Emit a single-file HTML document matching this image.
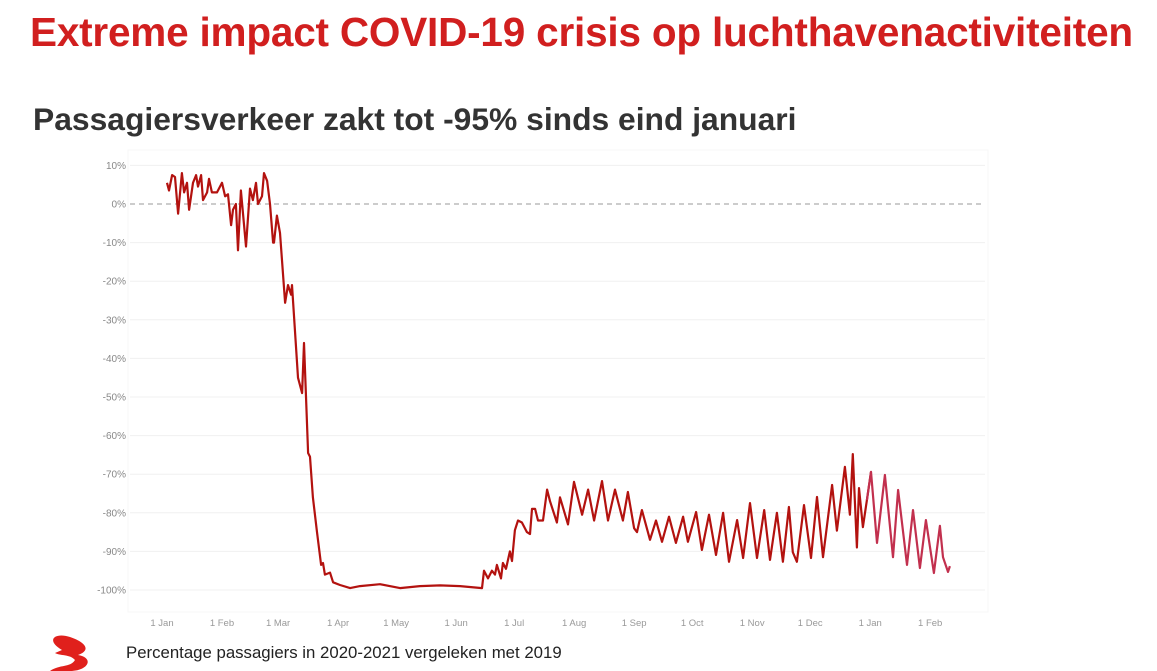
<!DOCTYPE html>
<html><head><meta charset="utf-8">
<style>
body{margin:0;width:1157px;height:671px;overflow:hidden;background:#fff;font-family:"Liberation Sans",sans-serif;position:relative}
#title{position:absolute;left:30px;top:9px;font-size:40.5px;font-weight:bold;color:#d11f1f;white-space:nowrap;letter-spacing:-0.2px}
#sub{position:absolute;left:33px;top:101px;font-size:31.8px;font-weight:bold;color:#333;white-space:nowrap}
#cap{position:absolute;left:126px;top:643px;font-size:16.8px;color:#222;white-space:nowrap}
svg{position:absolute;left:0;top:0}
</style></head><body>
<div id="title">Extreme impact COVID-19 crisis op luchthavenactiviteiten</div>
<div id="sub">Passagiersverkeer zakt tot -95% sinds eind januari</div>
<div id="cap">Percentage passagiers in 2020-2021 vergeleken met 2019</div>
<svg id="chart" width="1157" height="671">
<path d="M62 650 C45 640 55 632 70 637 C85 642 92 650 78 655 C95 658 88 671 70 671 L50 671 C60 664 70 668 75 660 C70 654 60 656 55 653 Z" fill="#e0201c"/>
</svg>
<script>
const yTicks=[10,0,-10,-20,-30,-40,-50,-60,-70,-80,-90,-100];
const xTickLabels=["1 Jan","1 Feb","1 Mar","1 Apr","1 May","1 Jun","1 Jul","1 Aug","1 Sep","1 Oct","1 Nov","1 Dec","1 Jan","1 Feb"];
const xTickDays=[0,31,60,91,121,152,182,213,244,274,305,335,366,397];
const days=[2.6,3.6,5.2,6.7,8.3,10.3,11.4,12.9,14,16,17.6,18.6,20.2,21.2,23.3,24.3,25.8,28.4,31,32.6,34.1,35.7,36.7,38.2,39.3,40.8,43.4,45.5,47,48.6,49.6,51.7,52.7,54.3,55.8,57.4,57.9,59.4,61,63.6,65.1,66.7,67.2,70.3,72.4,73.4,75.5,76.5,78,80.1,82.2,83.2,84.2,86.8,88.4,92,97.2,102.3,112.7,123,133.3,143.7,154,165.4,166.4,168.5,170.5,172.1,173.1,175.2,176.2,177.8,179.8,180.9,182.4,184,186,188.6,190.2,191.2,192.8,194.3,196.9,199,200.5,204.1,205.7,209.8,212.9,217.1,220.2,223.3,227.4,230.5,234.1,238.2,240.8,244,245.5,248,252.2,255.3,258.4,262,265.6,269.3,271.8,276,279,282.7,286.3,290,293,297.2,300.3,303.9,307.5,311.2,314.2,317.8,320.9,324,326,328.1,331.8,335.4,338.5,341.6,346.3,348.8,350.9,352.9,355.5,357,359.1,360.2,362.2,364.3,366.4,369.5,373.6,377.8,380.4,385,388.1,391.7,394.8,398.9,402,403.6,406.2,407.2];
const values=[5.5,3.5,7.5,7,-2.5,8,3,5.5,-1.5,5.5,7.5,4.5,7.5,1,3,6.5,3,3,5.5,2,2.5,-5.5,-1.5,0,-12,3.5,-11,4,1,5.5,0,2,8,6,0,-10,-10,-3,-7.5,-25.6,-21,-23.5,-21,-45,-49,-36,-64.5,-65.5,-76,-85,-93.5,-93,-96,-95.5,-98,-98.7,-99.5,-99,-98.5,-99.5,-99,-98.8,-99,-99.5,-95,-97,-95,-96,-93.5,-97,-93,-94.5,-90,-92.5,-84.5,-82,-82.5,-85,-85.5,-79,-79,-82,-82,-74,-77,-82.5,-76,-83,-72,-80.5,-74,-82,-71.8,-82,-74,-82,-74.6,-84,-85,-79.3,-87,-82,-87.5,-81,-87.8,-81,-87.5,-79.8,-89.6,-80.5,-90.9,-80,-92.7,-81.9,-91.7,-77.5,-91.7,-79.3,-92.2,-80,-92.7,-78.5,-90.2,-92.7,-78,-91.7,-75.9,-91.5,-72.8,-84.6,-76.2,-68.1,-80.5,-64.8,-89,-73.6,-83.7,-76.7,-69.4,-87.8,-70.2,-91.5,-74.1,-93.5,-79.3,-94.3,-81.9,-95.6,-83.4,-91.5,-95.3,-93.8];
const NS="http://www.w3.org/2000/svg";
const svg=document.getElementById('chart');
const xs=d=>162+d*1.935;
const ys=v=>204-v*3.86;
function mk(t,a){const e=document.createElementNS(NS,t);for(const k in a)e.setAttribute(k,a[k]);svg.appendChild(e);return e;}
const frame=mk('rect',{x:128,y:150,width:860,height:462,fill:'none',stroke:'#f7f7f7'});


yTicks.forEach(v=>{
  if(v!==0){const g=mk('line',{x1:130,x2:985,y1:ys(v),y2:ys(v),stroke:'#f0f0f0'});
  
  }
  const t=mk('text',{x:126,y:ys(v)+3.5,'text-anchor':'end','font-size':'10',fill:'#888','font-family':'Liberation Sans, sans-serif'});
  t.textContent=v+'%';
  
  
});
const zl=mk('line',{x1:130,x2:985,y1:ys(0),y2:ys(0),stroke:'#999','stroke-dasharray':'5,4'});


xTickLabels.forEach((l,i)=>{
  const t=mk('text',{x:xs(xTickDays[i]),y:626,'text-anchor':'middle','font-size':'9.5',fill:'#999','font-family':'Liberation Sans, sans-serif'});
  t.textContent=l;
  
  
});
let p1='',p2='';
days.forEach((d,i)=>{
  const pt=xs(d).toFixed(1)+','+ys(values[i]).toFixed(1);
  if(d<=366.4)p1+=(p1?'L':'M')+pt;
  if(d>=364.3)p2+=(p2?'L':'M')+pt;
});
const l1=mk('path',{d:p1,fill:'none',stroke:'#b3120f','stroke-width':2.2,'stroke-linejoin':'round'});


const l2=mk('path',{d:p2,fill:'none',stroke:'#c2304e','stroke-width':2.2,'stroke-linejoin':'round'});


</script>
</body></html>
